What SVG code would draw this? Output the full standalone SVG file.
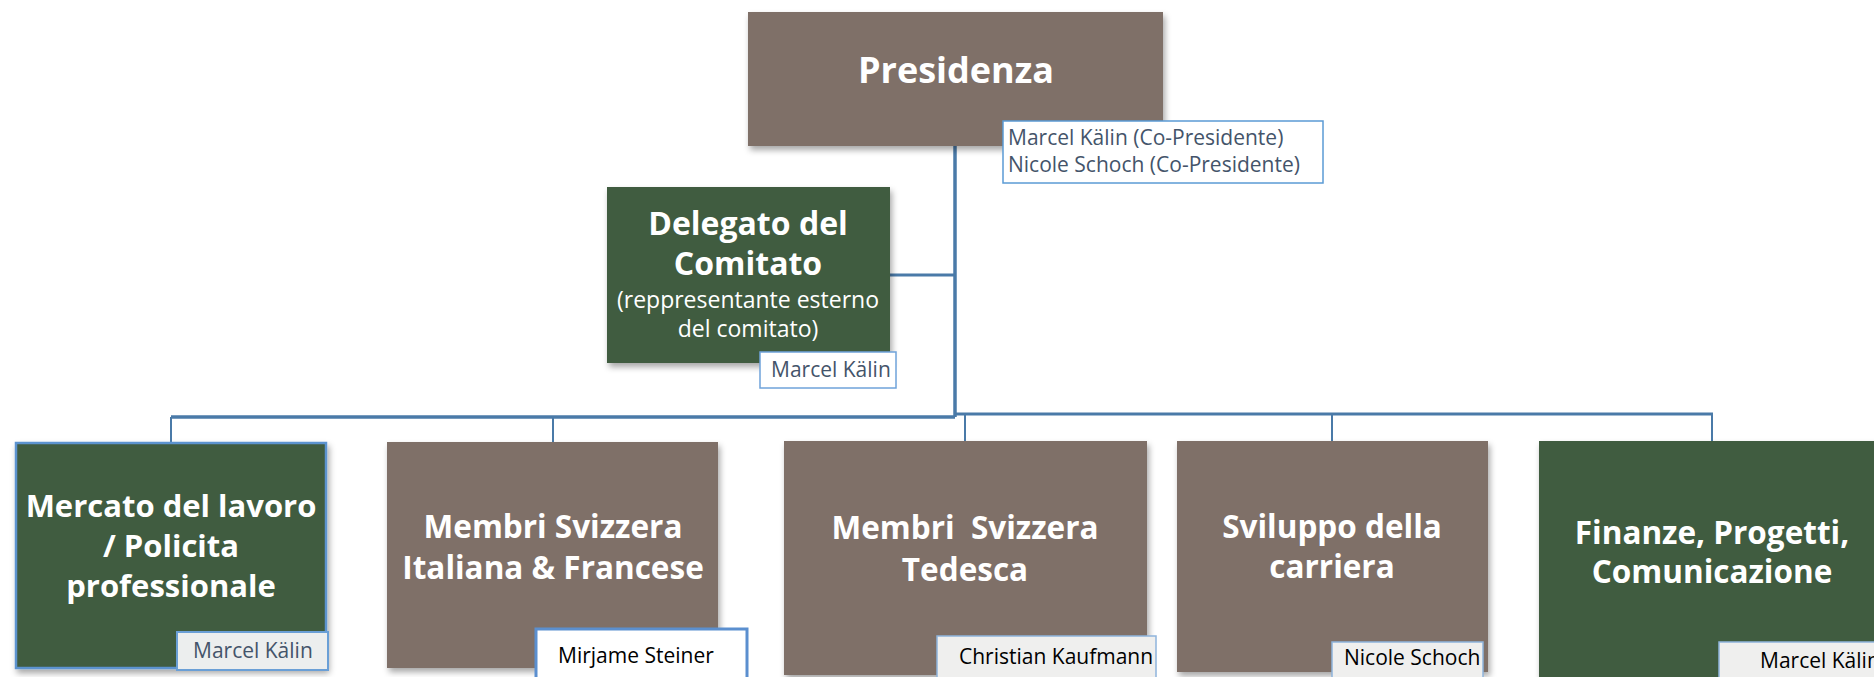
<svg xmlns="http://www.w3.org/2000/svg" width="1874" height="677" viewBox="0 0 1874 677">
<defs>
<filter id="sh" x="-10%" y="-10%" width="125%" height="130%">
<feDropShadow dx="2" dy="4" stdDeviation="3" flood-color="#000" flood-opacity="0.35"/>
</filter>
<style>
.brown{fill:#7f6f67;}
.green{fill:#3f5b41;}
.t{font-family:"Open Sans","Liberation Sans",sans-serif;font-weight:bold;fill:#fff;text-anchor:middle;}
.sub{font-family:"Open Sans","Liberation Sans",sans-serif;fill:#fff;text-anchor:middle;font-size:23px;}
.lbl{font-family:"Open Sans","Liberation Sans",sans-serif;font-size:21px;}
.slate{fill:#44546a;}
.blk{fill:#000;}
.conn{stroke:#4a7aa8;fill:none;}
</style>
</defs>
<rect width="1874" height="677" fill="#fff"/>
<g id="connectors">
<line class="conn" x1="955" y1="146" x2="955" y2="417" stroke-width="3.5"/>
<line class="conn" x1="890" y1="275" x2="955" y2="275" stroke-width="3"/>
<line class="conn" x1="171" y1="417" x2="955" y2="417" stroke-width="3.5"/>
<line class="conn" x1="955" y1="414" x2="1713" y2="414" stroke-width="3"/>
<line class="conn" x1="171" y1="417" x2="171" y2="442" stroke-width="2"/>
<line class="conn" x1="553" y1="417" x2="553" y2="442" stroke-width="2"/>
<line class="conn" x1="965" y1="414" x2="965" y2="441" stroke-width="2"/>
<line class="conn" x1="1332" y1="414" x2="1332" y2="441" stroke-width="2"/>
<line class="conn" x1="1712" y1="414" x2="1712" y2="441" stroke-width="2"/>
</g>
<g id="presidenza">
<rect class="brown" x="748" y="12" width="415" height="134" filter="url(#sh)"/>
<text class="t" x="956" y="83" font-size="36">Presidenza</text>
<rect x="1003" y="121" width="320" height="62" fill="#fff" stroke="#5b9bd5" stroke-width="1.5"/>
<text class="lbl slate" x="1008" y="145">Marcel Kälin (Co-Presidente)</text>
<text class="lbl slate" x="1008" y="172">Nicole Schoch (Co-Presidente)</text>
</g>
<g id="delegato">
<rect class="green" x="607" y="187" width="283" height="176" filter="url(#sh)"/>
<text class="t" x="748" y="235" font-size="32">Delegato del</text>
<text class="t" x="748" y="275" font-size="32">Comitato</text>
<text class="sub" x="748" y="308">(reppresentante esterno</text>
<text class="sub" x="748" y="337">del comitato)</text>
<rect x="760" y="352" width="136" height="36" fill="#fff" stroke="#6fa3da" stroke-width="1.5"/>
<text class="lbl slate" x="771" y="377">Marcel Kälin</text>
</g>
<g id="mercato">
<rect class="green" x="16" y="443" width="310" height="225" stroke="#5b93cf" stroke-width="2.5" filter="url(#sh)"/>
<text class="t" x="171" y="517" font-size="31">Mercato del lavoro</text>
<text class="t" x="171" y="557" font-size="31">/ Policita</text>
<text class="t" x="171" y="597" font-size="31">professionale</text>
<rect x="177" y="632" width="151" height="38" fill="#eceeee" stroke="#6a9fd6" stroke-width="2"/>
<text class="lbl slate" x="193" y="658">Marcel Kälin</text>
</g>
<g id="membri-it-fr">
<rect class="brown" x="387" y="442" width="331" height="226" filter="url(#sh)"/>
<text class="t" x="553" y="538" font-size="31.5">Membri Svizzera</text>
<text class="t" x="553" y="579" font-size="31.5">Italiana &amp; Francese</text>
<rect x="536" y="629" width="211" height="60" fill="#fff" stroke="#5b8fcf" stroke-width="3"/>
<text class="lbl blk" x="558" y="663">Mirjame Steiner</text>
</g>
<g id="membri-de">
<rect class="brown" x="784" y="441" width="363" height="234" filter="url(#sh)"/>
<text class="t" x="965" y="539" font-size="31.5" xml:space="preserve">Membri  Svizzera</text>
<text class="t" x="965" y="581" font-size="31.5">Tedesca</text>
<rect x="937" y="636" width="219" height="55" fill="#efefee" stroke="#8fb4dc" stroke-width="1.5"/>
<text class="lbl blk" x="959" y="664">Christian Kaufmann</text>
</g>
<g id="sviluppo">
<rect class="brown" x="1177" y="441" width="311" height="231" filter="url(#sh)"/>
<text class="t" x="1332" y="538" font-size="31.5">Sviluppo della</text>
<text class="t" x="1332" y="578" font-size="31.5">carriera</text>
<rect x="1332" y="642" width="151" height="40" fill="#efefee" stroke="#8fb4dc" stroke-width="1.5"/>
<text class="lbl blk" x="1344" y="665">Nicole Schoch</text>
</g>
<g id="finanze">
<rect class="green" x="1539" y="441" width="346" height="250" filter="url(#sh)"/>
<text class="t" x="1712" y="544" font-size="31.5">Finanze, Progetti,</text>
<text class="t" x="1712" y="583" font-size="31.5">Comunicazione</text>
<rect x="1719" y="642" width="175" height="50" fill="#efefee" stroke="#8fb4dc" stroke-width="1.5"/>
<text class="lbl blk" x="1760" y="668">Marcel Kälin</text>
</g>
</svg>
